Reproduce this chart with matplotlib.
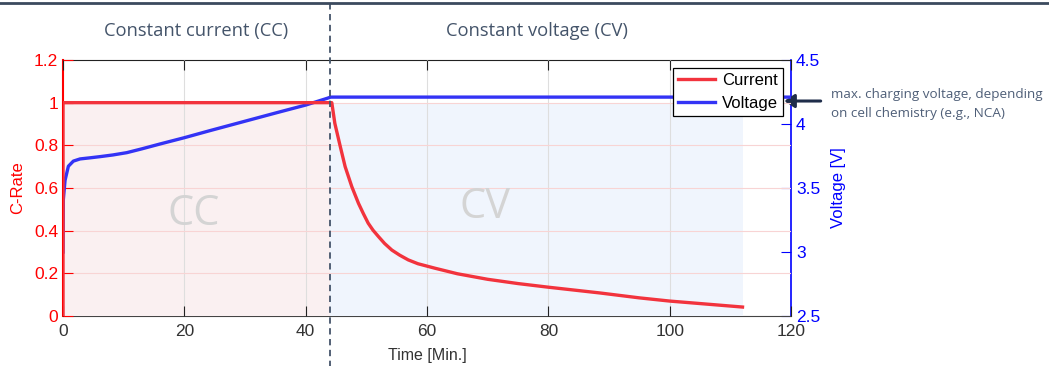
import matplotlib
matplotlib.use("Agg")
import matplotlib.pyplot as plt
from matplotlib.lines import Line2D
from matplotlib.patches import FancyArrowPatch
import matplotlib.transforms as mtransforms
import numpy as np

# charging profile (time in minutes)
t_volt = [0, 0.05, 0.33, 0.88, 1.7, 2.8, 4.5, 6.1, 8.2, 10.5, 13, 16, 20,
          24.2, 29.7, 35.2, 40, 43.5, 44.1, 120]
v_volt = [3.0, 3.41, 3.56, 3.67, 3.71, 3.727, 3.736, 3.745, 3.758, 3.776,
          3.806, 3.844, 3.893, 3.948, 4.018, 4.088, 4.148, 4.2, 4.21, 4.21]

t_cur = [0, 0, 44, 44.3, 44.8, 45.7, 46.5, 47.6, 48.7, 49.5, 50.3, 51.1, 52.0,
         53.0, 54.2, 55.5, 56.9, 58.5, 61.3, 65, 70, 75, 80, 88.5, 95, 100,
         106, 112]
c_cur = [0, 1, 1, 1.0, 0.903, 0.794, 0.70, 0.606, 0.528, 0.48, 0.435, 0.402,
         0.372, 0.34, 0.309, 0.285, 0.263, 0.245, 0.224, 0.198, 0.172, 0.152,
         0.135, 0.108, 0.085, 0.07, 0.056, 0.042]

t_switch = 44
t_end = 112

header_col = "#44546a"
red = "#f2333d"
blue = "#3333f5"

plt.rcParams['font.family'] = ['Liberation Sans', 'DejaVu Sans']

fig = plt.figure(figsize=(10.49, 3.66), dpi=100)
ax = fig.add_axes([0.0601, 0.1366, 0.694, 0.6995])
ax2 = ax.twinx()

# shaded phases
ax.fill_between([0, t_switch], 0, 1, color="#faf0f1", zorder=0, lw=0)
ax.fill_between([t_switch, t_end], 0, 1, color="#f0f5fd", zorder=0, lw=0)

ax.set_xlim(0, 120)
ax.set_ylim(0, 1.2)
ax2.set_ylim(2.5, 4.5)
ax.set_xticks([0, 20, 40, 60, 80, 100, 120])
ax.set_yticks([0, 0.2, 0.4, 0.6, 0.8, 1, 1.2])
ax.set_yticklabels(["0", "0.2", "0.4", "0.6", "0.8", "1", "1.2"])
ax2.set_yticks([2.5, 3, 3.5, 4, 4.5])
ax2.set_yticklabels(["2.5", "3", "3.5", "4", "4.5"])

# grid: grey verticals, pink horizontals
for x in [20, 40, 60, 80, 100]:
    ax.axvline(x, color="#dedede", lw=0.8, zorder=1)
for y in [0.2, 0.4, 0.6, 0.8, 1.0]:
    ax.axhline(y, color="#f8d4d4", lw=0.8, zorder=1)

ax.text(21.5, 0.48, "CC", fontsize=30, color="#d4d4d4", ha="center", va="center",
        family="Open Sans", zorder=2)
ax.text(69.5, 0.51, "CV", fontsize=30, color="#d4d4d4", ha="center", va="center",
        family="Open Sans", zorder=2)

ax.set_zorder(ax2.get_zorder() + 1)
ax.patch.set_visible(False)

# voltage mapped onto the left axes so it sits above the fills
vt = np.array(t_volt)
vv = (np.array(v_volt) - 2.5) / 2.0 * 1.2
ax.plot(vt, vv, color=blue, lw=2.4, zorder=3, solid_joinstyle="round")
l1, = ax.plot(t_cur, c_cur, color=red, lw=2.4, zorder=4, solid_joinstyle="round")

for s in ax.spines.values():
    s.set_visible(False)
ax2.spines["left"].set_color("red")
ax2.spines["left"].set_linewidth(1.5)
ax2.spines["right"].set_color("blue")
ax2.spines["right"].set_linewidth(1.2)
ax2.spines["top"].set_color("#222222")
ax2.spines["top"].set_linewidth(0.8)
ax2.spines["bottom"].set_color("#444444")
ax2.spines["bottom"].set_linewidth(0.8)

ax.tick_params(axis="y", direction="in", colors="red", labelsize=12.5, length=7, width=0.8)
ax.tick_params(axis="x", direction="in", colors="#222222", labelcolor="#333333",
               labelsize=12.5, length=7, width=0.8, top=True, pad=6)
ax2.tick_params(axis="y", direction="in", colors="blue", labelsize=12.5, length=7, width=0.8)

ax.set_ylabel("C-Rate", color="red", fontsize=12, labelpad=6)
ax2.set_ylabel("Voltage [V]", color="blue", fontsize=12, labelpad=8)
ax.set_xlabel("Time [Min.]", color="#333333", fontsize=11.5, labelpad=6)

leg = ax.legend([l1, Line2D([], [], color=blue, lw=2.4)], ["Current", "Voltage"],
                loc="upper right", fontsize=12, frameon=True, fancybox=False,
                edgecolor="black", framealpha=1, borderpad=0.3, handlelength=2.2,
                handletextpad=0.4, labelspacing=0.45, borderaxespad=0.5)
leg.get_frame().set_linewidth(0.9)
leg.set_zorder(10)

# phase divider spanning the whole figure height
trans = mtransforms.blended_transform_factory(ax.transData, ax.transAxes)
ax.plot([t_switch, t_switch], [-0.2, 1.22], transform=trans, clip_on=False,
        color=header_col, lw=1.3, ls=(0, (3.5, 2.5)), zorder=6)

fig.text(0.187, 0.915, "Constant current (CC)", fontsize=13.2, color=header_col,
         ha="center", va="center", family="Open Sans")
fig.text(0.512, 0.915, "Constant voltage (CV)", fontsize=13.2, color=header_col,
         ha="center", va="center", family="Open Sans")

fig.add_artist(Line2D([0, 1], [0.993, 0.993], color="#3b4a5e", lw=2))

fig.text(0.792, 0.717, "max. charging voltage, depending\non cell chemistry (e.g., NCA)",
         fontsize=9.7, color="#4f5f78", ha="left", va="center", family="Open Sans",
         linespacing=1.6)
fig.add_artist(FancyArrowPatch(
    (0.785, 0.724), (0.745, 0.724), transform=fig.transFigure,
    arrowstyle="-|>,head_length=6,head_width=4", color="#1f2d4a", lw=2.2))

fig.savefig("out.png", dpi=100)
